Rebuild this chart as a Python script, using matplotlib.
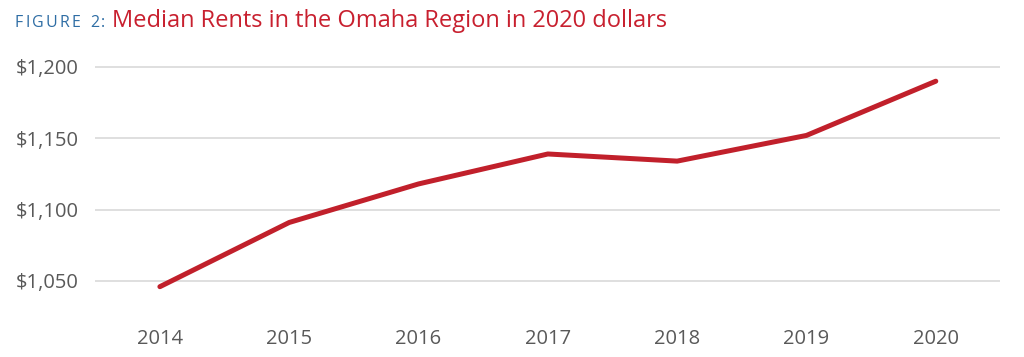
import matplotlib
matplotlib.use("Agg")
import matplotlib.pyplot as plt
from matplotlib.ticker import FuncFormatter

years = ["2014", "2015", "2016", "2017", "2018", "2019", "2020"]
median_rent = [1046, 1091, 1118, 1139, 1134, 1152, 1190]
y_ticks = [1050, 1100, 1150, 1200]

title_prefix = "FIGURE 2:"
title_main = "Median Rents in the Omaha Region in 2020 dollars"

plt.rcParams["font.family"] = ["Open Sans", "DejaVu Sans"]

fig = plt.figure(figsize=(10.24, 3.57), dpi=100)
ax = fig.add_axes([0.093, 0.133, 0.884, 0.7115])

x = range(len(years))
ax.plot(x, median_rent, color="#c1202b", linewidth=3.6, solid_capstyle="round",
        solid_joinstyle="round", zorder=3)

ax.set_xlim(-0.5, len(years) - 0.5)
ax.set_ylim(1030, 1208)
ax.set_xticks(list(x))
ax.set_xticklabels(years)
ax.set_yticks(y_ticks)
ax.yaxis.set_major_formatter(FuncFormatter(lambda v, p: f"${v:,.0f}"))

ax.grid(axis="y", color="#d9d9d9", linewidth=1.2)
ax.set_axisbelow(True)
for s in ax.spines.values():
    s.set_visible(False)
ax.tick_params(axis="both", length=0, labelsize=14.5, labelcolor="#595959")
ax.tick_params(axis="x", pad=14)
ax.tick_params(axis="y", pad=12)

# letter-spaced prefix, one character at a time
renderer = fig.canvas.get_renderer()
px = 15
for ch in title_prefix:
    t = fig.text(px / 1024, 0.925, ch, color="#2e6da4", fontsize=11.5, va="baseline")
    if ch == " ":
        w = 5
    else:
        w = t.get_window_extent(renderer).width
    px += w + 2.2
fig.text((px + 4) / 1024, 0.925, title_main, color="#c8202f", fontsize=17, va="baseline")

fig.savefig("out.png", dpi=100, facecolor="white")
